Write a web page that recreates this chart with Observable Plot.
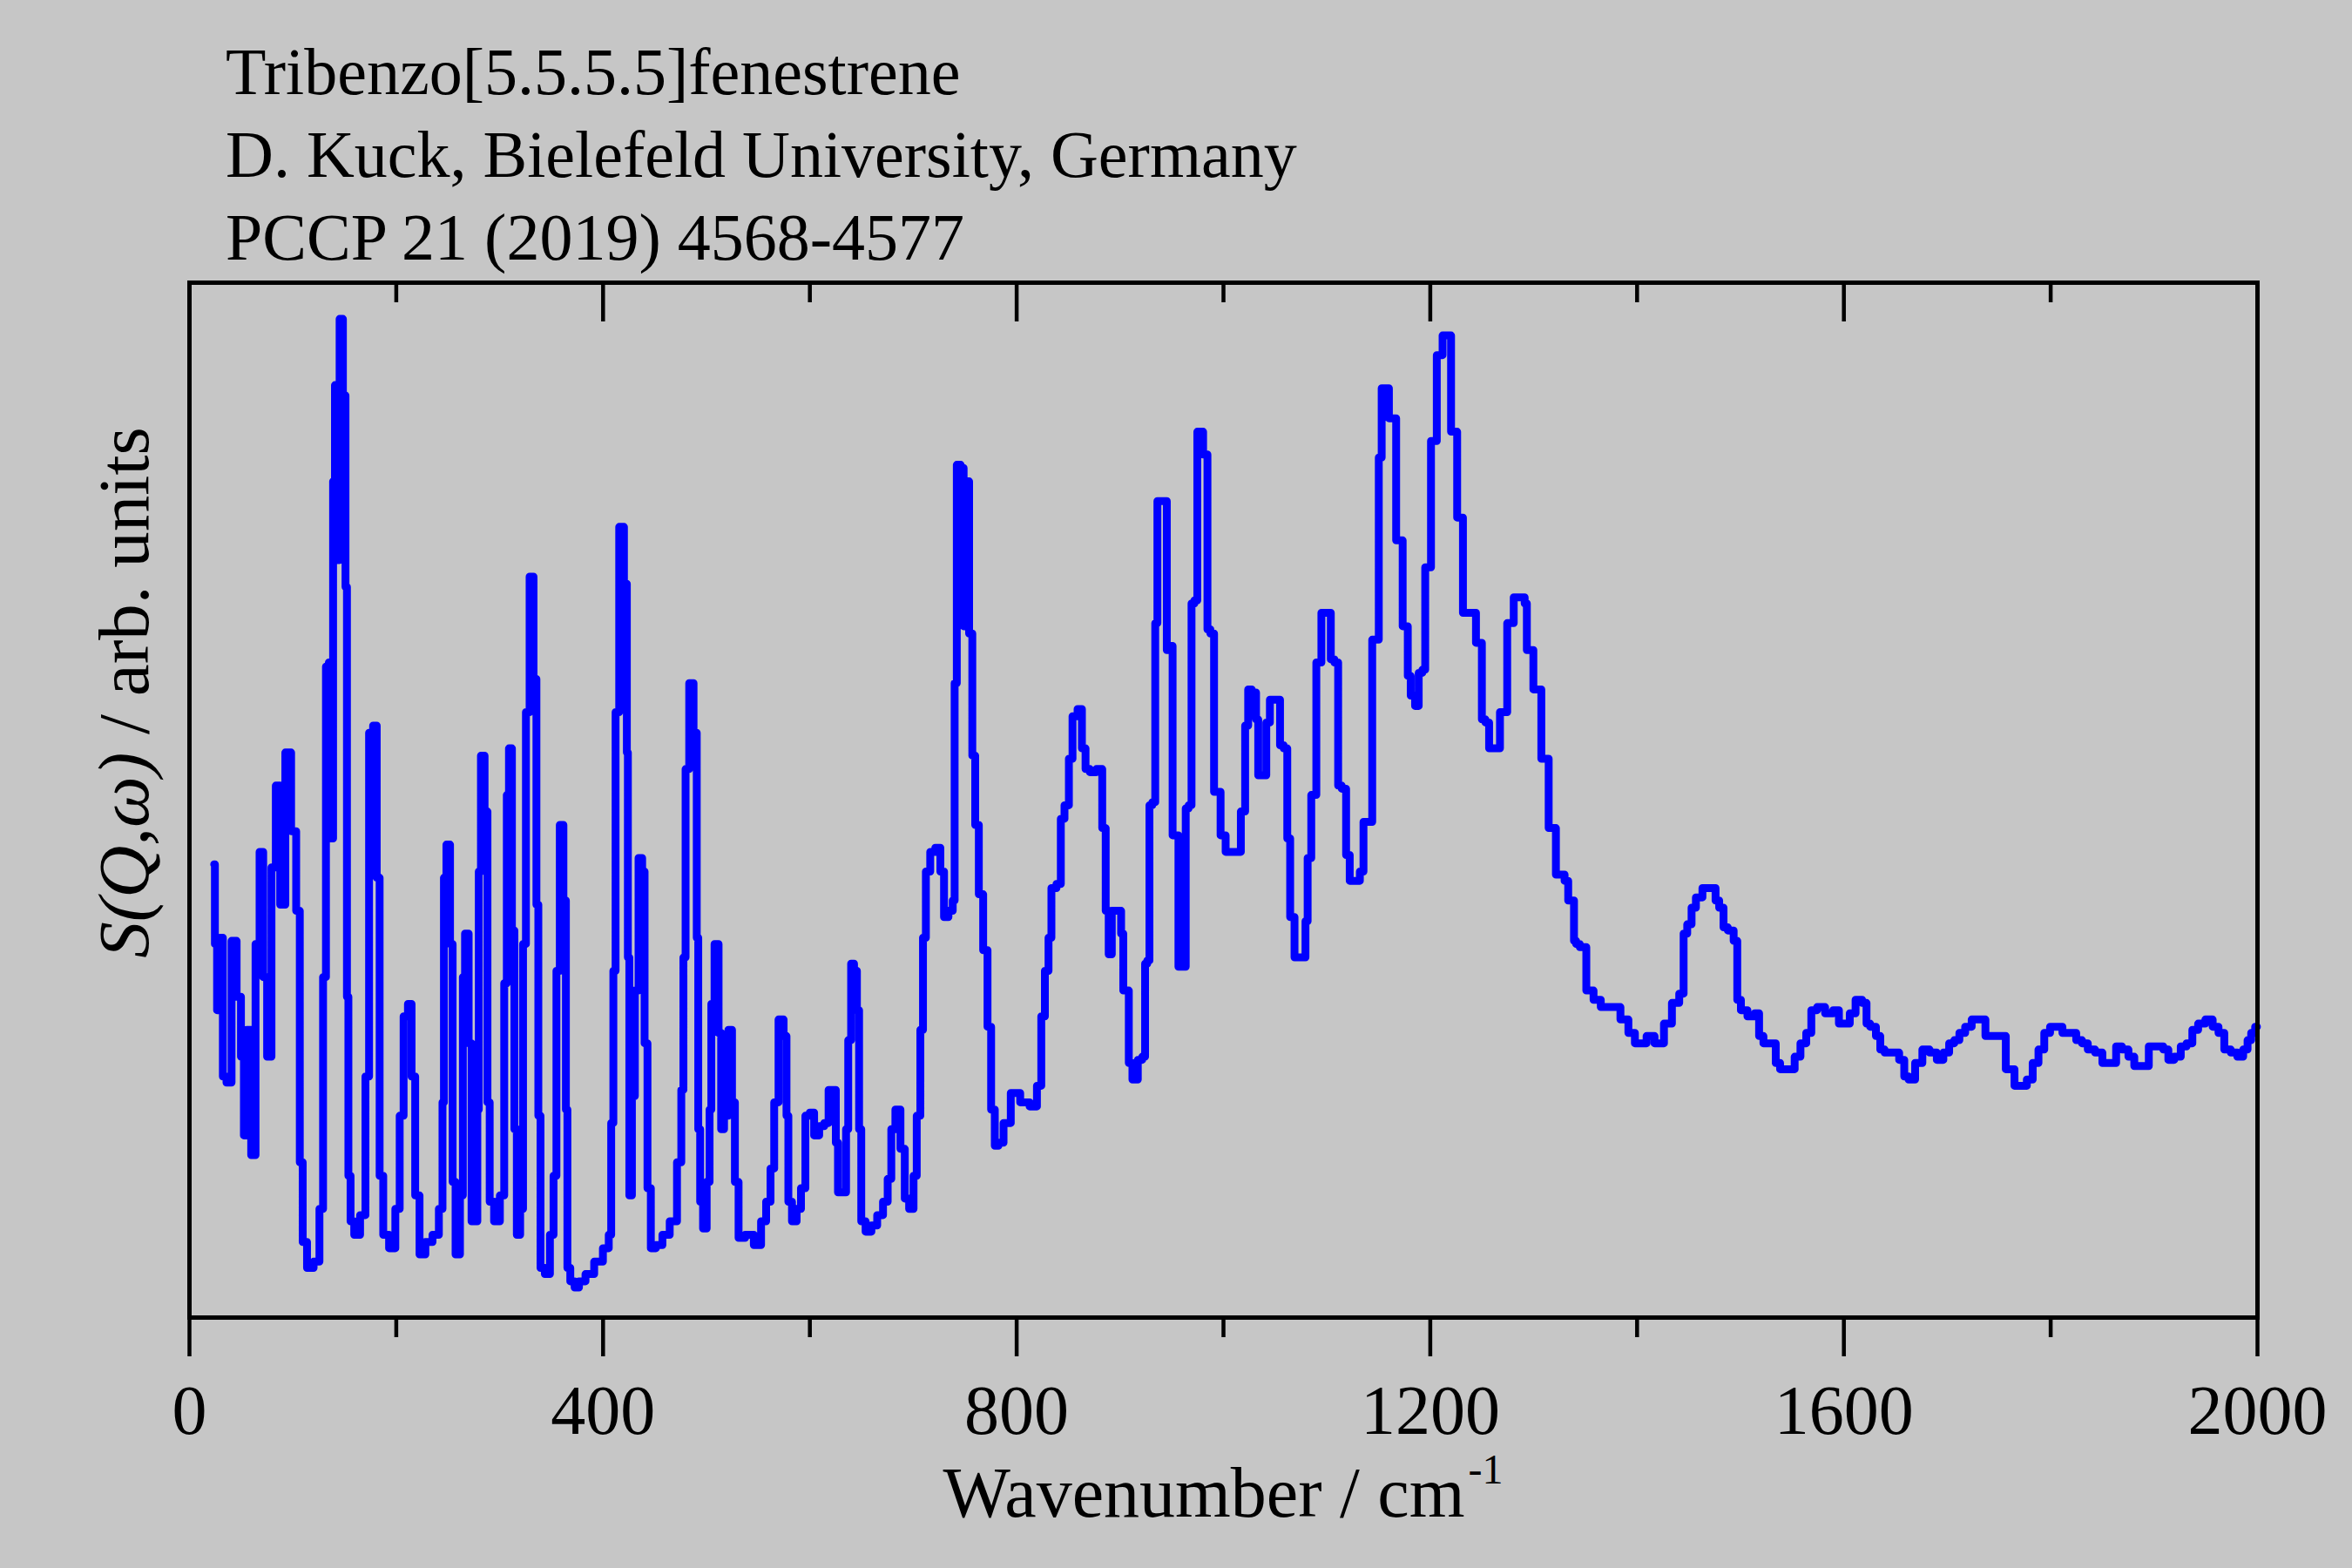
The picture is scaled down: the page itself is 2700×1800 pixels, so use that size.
<!DOCTYPE html>
<html>
<head>
<meta charset="utf-8">
<script src="https://cdn.jsdelivr.net/npm/d3@7"></script>
<script src="https://cdn.jsdelivr.net/npm/@observablehq/plot@0.6"></script>
<style>
  html, body { margin: 0; padding: 0; background: #c6c6c6; }
  #wrap { position: relative; width: 2700px; height: 1800px; background: #c6c6c6; overflow: hidden;
          font-family: "Liberation Serif", "Times New Roman", serif; color: #000; }
  #chart { position: absolute; left: 0; top: 0; }
  #title { position: absolute; left: 259px; top: 35px; font-size: 76px; line-height: 95px; white-space: nowrap; }
  #xlabel { position: absolute; left: 217px; width: 2374px; top: 1673px; font-size: 82px; line-height: 82px;
            text-align: center; white-space: nowrap; }
  #xlabel .main { display: inline-block; vertical-align: top; }
  #xlabel .sup { display: inline-block; vertical-align: top; font-size: 48px; line-height: 48px;
                 margin-left: 4px; margin-top: -10px; }
  #ylabel { position: absolute; left: 142px; top: 795px; font-size: 83px; line-height: 83px; white-space: nowrap;
            transform: translate(-50%, -50%) rotate(-90deg); }
  #ylabel i { font-style: italic; }
</style>
</head>
<body>
<div id="wrap">
  <div id="chart"></div>
  <div id="title"></div>
  <div id="xlabel"></div>
  <div id="ylabel"></div>
</div>
<script>
// ---- text ----
const titleLines = [
  "Tribenzo[5.5.5.5]fenestrene",
  "D. Kuck, Bielefeld University, Germany",
  "PCCP 21 (2019) 4568-4577"
];
const xLabelText = "Wavenumber / cm";
const xLabelSup = "-1";
const yLabelItalic = "S(Q,\u03c9)";
const yLabelRest = " / arb. units";

// ---- ticks ----
const majorTicks = [0, 400, 800, 1200, 1600, 2000];
const minorTicks = [200, 600, 1000, 1400, 1800];
const topMajorTicks = [400, 800, 1200, 1600];

// ---- spectrum (wavenumber in cm^-1, intensity in arbitrary units 0..100) ----
const wavenumber = [
  23.9, 25.3, 28.1, 30.9, 33.7, 37.9, 43.5, 47.7, 51.9, 53.4, 57.6, 61.8, 66.0, 69.6, 73.0, 77.2,
  81.4, 85.6, 89.9, 95.5, 101.1, 105.3, 108.1, 110.9, 116.5, 123.6, 127.8, 130.6, 133.4, 136.2, 138.2, 139.6,
  141.8, 143.8, 146.6, 150.2, 151.6, 153.0, 154.4, 157.2, 161.5, 168.5, 171.9, 175.5, 179.7, 182.5, 185.3, 189.5,
  196.6, 201.6, 205.0, 209.2, 213.4, 216.2, 220.4, 224.6, 231.7, 238.4, 244.0, 245.4, 246.8, 250.2,
  253.8, 255.2, 259.5, 263.7, 265.1, 267.9, 272.1, 273.5, 277.7, 279.1, 280.5, 283.3, 287.5, 288.9, 291.8, 297.4,
  303.0, 305.8, 308.0, 310.0, 313.7, 314.8, 318.4, 321.2, 324.0, 326.8, 331.1, 334.4, 336.7, 338.1, 340.9, 346.5,
  350.7, 353.5, 356.3, 360.0, 363.3, 364.8, 366.2, 370.4, 374.6, 378.8, 387.2, 395.6, 404.1, 406.9, 408.8, 411.1,
  413.1, 418.1, 422.3, 423.7, 424.3, 426.5, 429.3, 432.2, 436.4, 439.2, 441.1, 444.8, 447.6, 454.6, 460.2, 468.7,
  474.3, 477.0, 478.4, 481.2, 485.4, 489.6, 491.6, 492.5, 495.3, 498.1, 502.3, 503.7, 505.7, 509.9, 513.5, 514.9,
  519.1, 523.3, 526.1, 528.9, 533.2, 541.6, 550.0, 555.6, 559.8, 564.1, 566.9, 572.5, 576.7, 578.1, 580.3, 585.1,
  589.3, 593.5, 597.8, 602.0, 606.2, 611.8, 616.0, 620.2, 624.4, 625.8, 628.6, 634.3, 635.7, 638.5, 641.3, 644.1,
  646.9, 648.3, 651.1, 656.7, 662.3, 667.9, 673.6, 676.9, 680.6, 684.8, 690.4, 693.2, 698.8, 701.7, 705.0, 708.7,
  710.1, 714.3, 718.5, 724.1, 728.3, 731.2, 736.8, 739.5, 740.5, 743.7, 748.0, 749.4, 751.6, 756.4, 757.8, 762.0,
  764.8, 770.4, 773.2, 777.4, 780.3, 784.5, 790.1, 798.5, 808.3, 816.8, 822.4, 825.2, 829.4, 832.2, 835.0, 842.0,
  843.4, 849.1, 851.9, 856.1, 861.7, 864.5, 868.7, 872.9, 881.3, 884.2, 888.0, 890.0, 894.0, 899.6, 902.4, 903.8,
  908.0, 908.9, 915.0, 919.3, 923.5, 924.9, 927.7, 929.1, 933.3, 934.7, 937.5, 944.5, 945.9, 950.1, 951.5, 955.7,
  957.2, 962.8, 964.2, 968.4, 969.8, 974.0, 975.4, 979.6, 981.0, 983.8, 985.2, 989.5, 992.3, 996.5, 997.9, 1000.7,
  1003.5, 1016.1, 1017.5, 1020.4, 1021.5, 1023.2, 1024.6, 1030.1, 1032.9, 1034.3, 1040.0, 1042.8, 1047.0, 1054.0, 1055.4, 1061.0,
  1062.4, 1066.6, 1070.8, 1077.9, 1080.7, 1082.1, 1087.7, 1091.9, 1097.5, 1103.1, 1104.5, 1110.2, 1111.6, 1117.2, 1120.0, 1124.2,
  1129.8, 1134.0, 1136.8, 1142.4, 1145.3, 1149.5, 1150.9, 1155.1, 1159.3, 1160.7, 1166.3, 1167.7, 1171.9, 1174.7, 1177.5, 1179.0,
  1183.2, 1187.4, 1190.2, 1194.4, 1195.8, 1200.0, 1201.4, 1205.6, 1207.0, 1211.2, 1212.6, 1219.7, 1220.5, 1225.3, 1226.7, 1230.9,
  1232.3, 1243.5, 1244.9, 1249.2, 1250.6, 1256.2, 1257.6, 1266.0, 1268.8, 1273.0, 1275.8, 1280.0, 1281.4, 1289.9, 1292.7, 1294.1,
  1298.3, 1301.1, 1306.7, 1308.1, 1313.8, 1315.2, 1320.8, 1322.2, 1327.8, 1332.0, 1334.8, 1337.6, 1340.4, 1341.8, 1347.4, 1354.4,
  1361.4, 1368.4, 1379.7, 1388.1, 1395.1, 1400.7, 1406.4, 1412.0, 1421.8, 1430.2, 1437.2, 1444.3, 1445.7, 1451.3, 1454.1, 1459.7,
  1466.7, 1475.2, 1476.6, 1482.2, 1485.0, 1490.6, 1496.2, 1497.6, 1503.2, 1510.3, 1517.3, 1518.7, 1525.7, 1532.7, 1535.5, 1541.1,
  1549.6, 1555.2, 1560.8, 1566.4, 1570.6, 1577.6, 1586.1, 1593.1, 1597.3, 1602.9, 1608.5, 1614.1, 1621.2, 1622.6, 1628.2, 1633.8,
  1636.6, 1642.2, 1650.6, 1656.3, 1660.5, 1664.7, 1673.1, 1678.7, 1687.1, 1692.7, 1699.7, 1703.9, 1709.6, 1713.8, 1720.8, 1726.4,
  1734.8, 1739.0, 1748.9, 1755.9, 1757.3, 1764.3, 1765.7, 1774.1, 1779.8, 1785.4, 1791.0, 1796.6, 1802.2, 1809.2, 1813.5, 1821.9,
  1827.5, 1833.1, 1838.7, 1847.2, 1852.8, 1861.2, 1865.4, 1872.4, 1878.0, 1883.7, 1892.1, 1897.7, 1906.1, 1911.7, 1915.9, 1923.0,
  1928.6, 1934.2, 1939.8, 1945.4, 1953.8, 1959.5, 1965.1, 1970.7, 1977.7, 1983.3, 1989.0, 1991.8, 1996.0, 1999.5
];
const intensity = [
  43.8, 36.1, 29.7, 36.7, 23.3, 22.7, 36.4, 31.0, 25.2, 17.6, 27.8, 15.7, 36.1, 45.0, 32.9, 25.2,
  43.5, 51.4, 39.9, 54.6, 47.0, 39.3, 15.0, 7.3, 4.8, 5.4, 10.5, 32.9, 62.9, 63.3, 46.3, 80.8,
  90.1, 73.2, 96.5, 89.1, 70.6, 31.0, 13.7, 9.3, 8.0, 9.9, 23.3, 56.5, 57.2, 42.5, 13.7, 8.0,
  6.7, 10.5, 19.5, 29.1, 30.3, 23.3, 11.8, 6.1, 7.3, 8.0, 10.5, 20.8, 42.5, 45.7,
  36.1, 13.1, 6.1, 11.8, 32.9, 37.1, 26.5, 9.3, 9.3, 20.1, 43.1, 54.3, 48.9, 20.8, 11.2, 9.3,
  11.8, 32.3, 50.5, 55.0, 37.4, 18.2, 8.0, 10.5, 36.1, 58.5, 71.6, 61.7, 39.9, 19.5, 4.8, 4.2,
  8.0, 13.7, 33.5, 47.6, 40.3, 20.1, 4.8, 3.5, 2.9, 3.5, 4.2, 5.4, 6.7, 8.0, 18.8, 33.5,
  58.5, 76.4, 70.9, 54.6, 34.8, 11.8, 21.4, 31.6, 44.4, 43.1, 26.5, 12.5, 6.7, 7.0, 8.0, 9.3,
  15.0, 22.0, 34.8, 53.0, 61.3, 56.5, 36.7, 18.2, 11.2, 8.6, 13.1, 20.1, 30.3, 36.1, 27.5, 18.2,
  19.5, 27.8, 20.8, 13.1, 7.7, 8.0, 7.0, 9.3, 11.2, 14.4, 20.8, 28.8, 27.2, 19.5, 11.2, 9.3,
  10.5, 12.5, 19.5, 19.8, 17.6, 18.5, 18.8, 22.0, 22.0, 16.9, 12.1, 12.1, 18.2, 26.8, 34.2, 33.5,
  29.7, 18.2, 9.3, 8.3, 8.9, 9.9, 11.2, 13.4, 18.2, 20.1, 16.3, 11.5, 10.5, 13.7, 19.5, 27.8,
  36.7, 43.1, 45.0, 45.4, 43.1, 38.7, 39.3, 40.3, 61.3, 82.4, 82.1, 66.8, 80.8, 66.1, 54.3, 47.6,
  40.9, 35.5, 28.1, 20.1, 16.6, 16.9, 18.8, 21.7, 20.8, 20.4, 22.4, 29.1, 33.5, 36.7, 41.5, 41.9,
  48.2, 49.5, 54.0, 58.1, 58.8, 55.0, 53.0, 52.7, 53.0, 47.3, 39.3, 35.1, 39.3, 39.3, 37.1, 31.6,
  31.6, 24.6, 23.0, 24.9, 25.2, 34.2, 34.5, 49.5, 49.8, 67.1, 78.9, 78.9, 64.5, 64.9, 46.6, 46.6,
  33.9, 33.9, 49.2, 49.5, 69.0, 69.3, 85.6, 85.6, 83.4, 83.4, 66.5, 66.1, 50.8, 50.8, 46.6, 46.6,
  45.0, 45.0, 48.9, 48.9, 57.2, 57.2, 60.7, 60.4, 57.8, 52.4, 52.4, 57.5, 59.7, 59.7, 55.3, 55.0,
  46.3, 38.7, 34.8, 34.8, 38.3, 44.4, 50.5, 63.3, 68.1, 68.1, 63.6, 63.3, 51.4, 51.1, 44.7, 42.2,
  42.2, 43.1, 47.9, 47.9, 65.5, 65.5, 83.1, 89.8, 89.8, 86.9, 86.9, 75.1, 75.1, 66.8, 66.8, 62.0,
  60.1, 59.1, 62.3, 62.6, 72.5, 72.5, 84.7, 84.7, 93.0, 93.0, 94.9, 94.9, 85.6, 85.6, 77.3, 77.3,
  68.1, 68.1, 65.2, 65.2, 57.8, 57.5, 55.0, 55.0, 58.5, 58.5, 67.1, 67.1, 69.6, 69.6, 69.0, 64.5,
  64.5, 60.7, 60.7, 54.0, 54.0, 47.3, 47.3, 42.8, 42.8, 42.2, 40.3, 40.3, 36.4, 36.1, 35.8, 31.6,
  30.7, 30.0, 30.0, 28.8, 27.5, 26.5, 26.5, 27.2, 26.5, 28.4, 30.4, 31.3, 37.1, 38.0, 39.6, 40.6,
  41.5, 41.5, 40.3, 39.6, 37.7, 37.4, 36.4, 30.7, 29.7, 29.1, 29.4, 27.2, 26.5, 26.5, 24.6, 24.0,
  24.0, 25.2, 26.5, 27.5, 29.7, 30.0, 29.4, 29.7, 28.4, 28.4, 29.4, 30.7, 30.4, 28.4, 28.1, 27.2,
  25.9, 25.6, 25.6, 24.9, 23.3, 23.0, 24.6, 25.9, 25.6, 24.9, 25.6, 26.5, 26.8, 27.5, 28.1, 28.8,
  28.8, 27.2, 27.2, 27.2, 24.0, 24.0, 22.4, 22.4, 23.0, 24.6, 25.9, 27.5, 28.1, 28.1, 27.5, 27.5,
  26.8, 26.5, 25.9, 25.6, 24.6, 24.6, 26.2, 25.9, 25.2, 24.3, 24.3, 26.2, 26.2, 25.9, 24.9, 25.2,
  26.2, 26.5, 27.8, 28.4, 28.8, 28.1, 27.5, 25.9, 25.6, 25.2, 25.9, 26.8, 27.5, 28.1
];

const spectrum = wavenumber.map((w, i) => ({wn: w, s: intensity[i]}));

// ---- layout ----
const W = 2700, H = 1800;
const mL = 217, mR = 109, mT = 324, mB = 288;
const frameH = H - mT - mB;

const chart = Plot.plot({
  width: W,
  height: H,
  marginLeft: mL,
  marginRight: mR,
  marginTop: mT,
  marginBottom: mB,
  style: {background: "#c6c6c6", fontFamily: "'Liberation Serif', 'Times New Roman', serif", color: "black", overflow: "visible"},
  x: {domain: [0, 2000]},
  y: {domain: [0, 100], axis: null},
  marks: [
    Plot.line(spectrum, {x: "wn", y: "s", curve: "step", stroke: "#0000ff", strokeWidth: 9,
                         strokeLinejoin: "round", strokeLinecap: "round"}),
    Plot.ruleX(topMajorTicks, {stroke: "black", strokeWidth: 4.5, insetBottom: frameH - 45}),
    Plot.ruleX(minorTicks, {stroke: "black", strokeWidth: 4.5, insetBottom: frameH - 23}),
    Plot.axisX({ticks: minorTicks, tickSize: 23, strokeWidth: 4.5, tickFormat: () => "", label: null}),
    Plot.axisX({ticks: majorTicks, tickSize: 45, tickPadding: 32, strokeWidth: 4.5, fontSize: 80,
                tickFormat: d => String(d), label: null}),
    Plot.frame({stroke: "black", strokeWidth: 5})
  ]
});
document.getElementById("chart").appendChild(chart);

// ---- texts ----
document.getElementById("title").innerHTML = titleLines.map(t => `<div>${t}</div>`).join("");
document.getElementById("xlabel").innerHTML =
  `<span class="main">${xLabelText}</span><span class="sup">${xLabelSup}</span>`;
document.getElementById("ylabel").innerHTML = `<i>${yLabelItalic}</i>${yLabelRest}`;
</script>
</body>
</html>
